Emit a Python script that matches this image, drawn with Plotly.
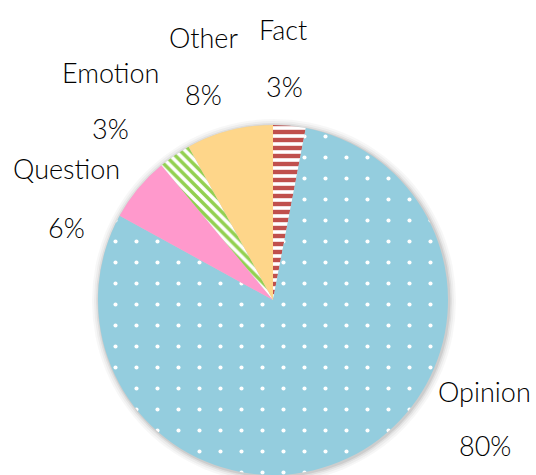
import plotly.graph_objects as go

# ---- data ----
categories = ["Fact", "Opinion", "Question", "Emotion", "Other"]
values = [3, 80, 6, 3, 8]

# ---- styles ----
W, H = 536, 475
CX, CY, R = 273, 300, 175  # pie centre / radius in pixels (from top-left)
FONT = "Lato"

colors_bg = ["#FFFFFF", "#94CDDE", "#FF99CC", "#FFFFFF", "#FED68A"]
colors_fg = ["#C0504D", "#FFFFFF", "#FF99CC", "#92D050", "#FED68A"]
shapes_pat = ["-", ".", "", "\\", ""]
pat_size = [8, 21, 8, 7, 8]
pat_sol = [0.55, 0.03, 0.3, 0.5, 0.3]

# label anchor positions (pixels, centre of label text / percent text)
label_pos = [(283, 30), (484, 391), (66, 168), (110, 73), (203, 38)]
pct_pos = [(284, 86), (485, 445), (66, 227), (110, 128), (203, 95)]

fig = go.Figure()

# soft shadow behind pie
shapes = []
for dr, op in [(7, 0.03), (5, 0.04), (3, 0.06), (1.5, 0.08)]:
    r = R + dr
    cx, cy = CX + 1, CY + 1
    shapes.append(dict(
        type="circle", xref="paper", yref="paper", layer="below",
        x0=(cx - r) / W, x1=(cx + r) / W,
        y0=(H - cy - r) / H, y1=(H - cy + r) / H,
        fillcolor=f"rgba(0,0,0,{op})", line=dict(width=0),
    ))

fig.add_trace(go.Pie(
    labels=categories,
    values=values,
    sort=False,
    direction="clockwise",
    rotation=0,
    textinfo="none",
    hoverinfo="label+percent",
    domain=dict(x=[(CX - R) / W, (CX + R) / W],
                y=[max(0, (H - CY - R) / H), min(1, (H - CY + R) / H)]),
    marker=dict(
        colors=colors_bg,
        line=dict(width=0),
        pattern=dict(
            shape=shapes_pat,
            fgcolor=colors_fg,
            bgcolor=colors_bg,
            fgopacity=1,
            size=pat_size,
            solidity=pat_sol,
            fillmode="overlay",
        ),
    ),
    showlegend=False,
))

total = sum(values)
annotations = []
for cat, v, lp, pp in zip(categories, values, label_pos, pct_pos):
    annotations.append(dict(
        text=cat, x=lp[0] / W, y=1 - lp[1] / H, xref="paper", yref="paper",
        showarrow=False, xanchor="center", yanchor="middle",
        font=dict(family=FONT, size=27, color="#000000", weight=300),
    ))
    annotations.append(dict(
        text=f"{round(v / total * 100)}%", x=pp[0] / W, y=1 - pp[1] / H,
        xref="paper", yref="paper",
        showarrow=False, xanchor="center", yanchor="middle",
        font=dict(family=FONT, size=27, color="#000000", weight=300),
    ))

fig.update_layout(
    width=W, height=H,
    margin=dict(l=0, r=0, t=0, b=0),
    paper_bgcolor="white",
    plot_bgcolor="white",
    shapes=shapes,
    annotations=annotations,
)

fig.write_html(
    "out.html",
    config={"displayModeBar": False},
    post_script="document.body.style.margin='0';document.body.style.padding='0';",
)
